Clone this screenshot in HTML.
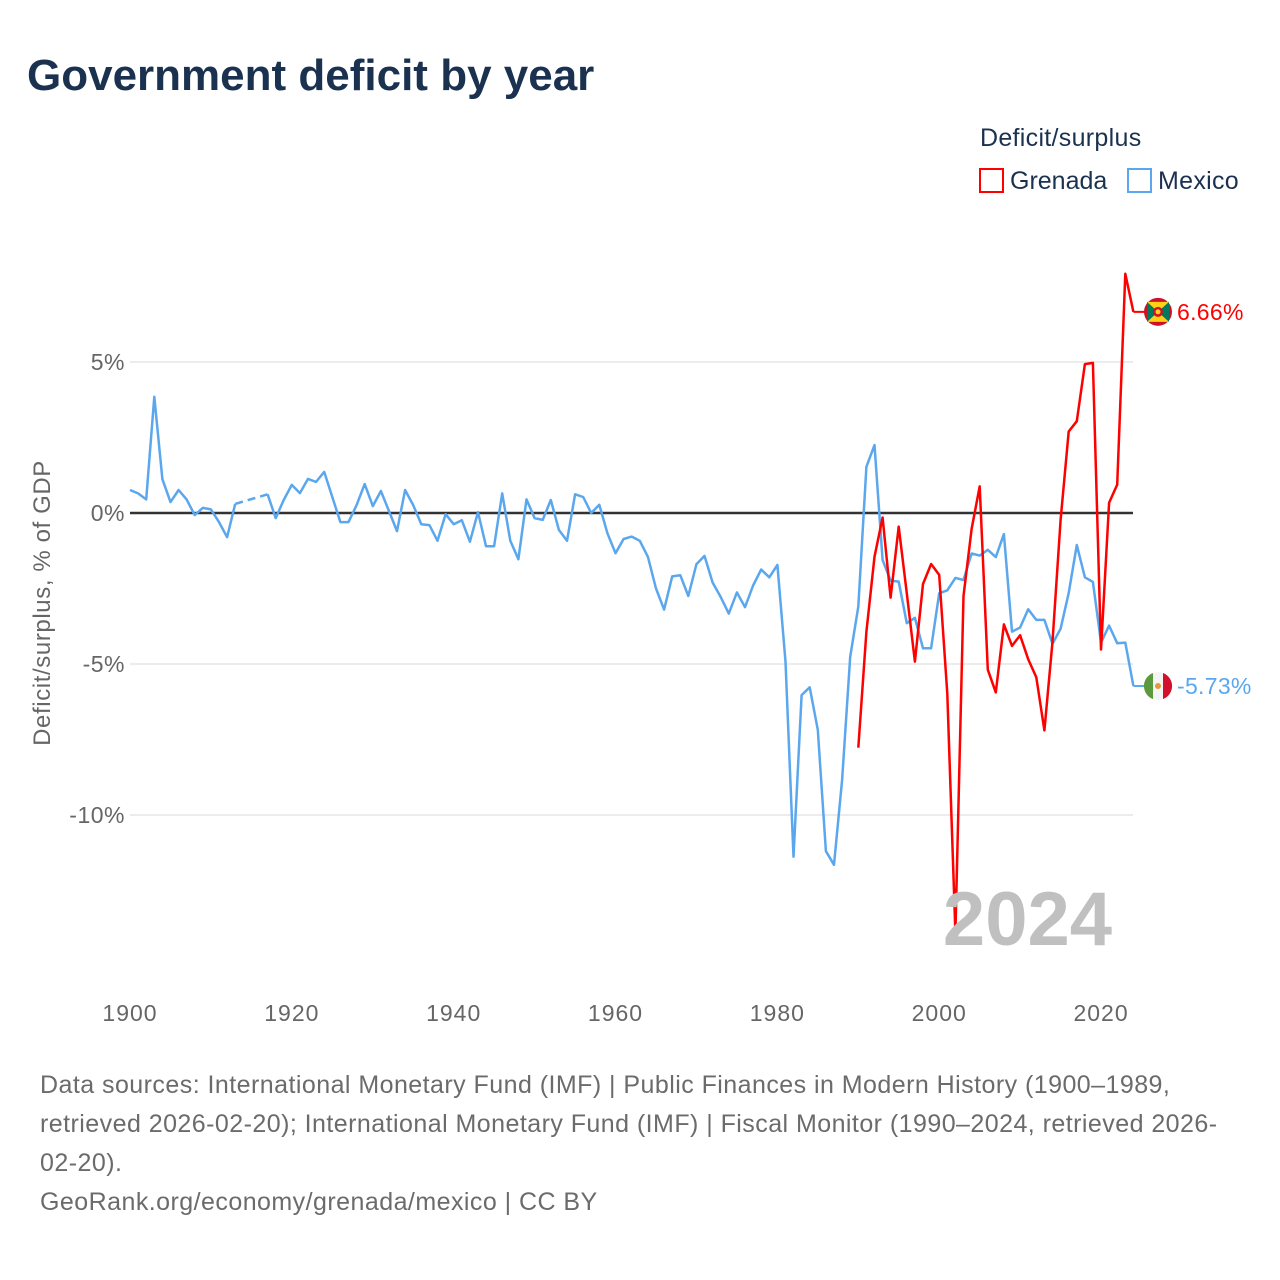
<!DOCTYPE html>
<html><head><meta charset="utf-8">
<style>
body{margin:0;background:#fff;font-family:"Liberation Sans",sans-serif;}
#wrap{position:relative;width:1280px;height:1280px;overflow:hidden;}
.t{position:absolute;white-space:nowrap;}
</style></head>
<body>
<div id="wrap">
<div class="t" style="left:27px;top:51px;font-size:44px;font-weight:bold;color:#1b3150;">Government deficit by year</div>
<div class="t" style="left:980px;top:124px;font-size:25px;letter-spacing:0.3px;color:#1b3150;">Deficit/surplus</div>
<div class="t" style="left:979px;top:167px;font-size:25px;color:#1b3150;"><span style="display:inline-block;width:25px;height:25px;border:2px solid #ff0000;box-sizing:border-box;vertical-align:-4px;margin-right:6px;"></span>Grenada</div>
<div class="t" style="left:1127px;top:167px;font-size:25px;letter-spacing:0.3px;color:#1b3150;"><span style="display:inline-block;width:25px;height:25px;border:2px solid #5ba7ee;box-sizing:border-box;vertical-align:-4px;margin-right:6px;"></span>Mexico</div>
<svg id="chart" width="1280" height="1280" style="position:absolute;left:0;top:0;">
  <g id="grid"></g>
  <g id="series"></g>
  <g id="labels"></g>
</svg>
<div class="t" style="left:40px;top:1066px;font-size:25px;letter-spacing:0.45px;line-height:39px;color:#6b6b6b;">Data sources: International Monetary Fund (IMF) | Public Finances in Modern History (1900–1989,<br>retrieved 2026-02-20); International Monetary Fund (IMF) | Fiscal Monitor (1990–2024, retrieved 2026-<br>02-20).<br>GeoRank.org/economy/grenada/mexico | CC BY</div>
</div>
<script>
const mexicoStart = 1900;
const mexicoValues = [0.76,0.65,0.45,3.85,1.12,0.36,0.76,0.45,-0.07,0.17,0.12,-0.3,-0.8,0.3,null,null,null,0.62,-0.17,0.43,
0.93,0.66,1.13,1.03,1.36,0.53,-0.3,-0.3,0.26,0.96,0.23,0.73,0.07,-0.6,0.76,0.26,-0.37,-0.4,-0.92,-0.04,
-0.37,-0.24,-0.95,0.03,-1.1,-1.1,0.65,-0.92,-1.53,0.45,-0.17,-0.23,0.43,-0.56,-0.92,0.62,0.53,0,0.27,-0.67,
-1.33,-0.86,-0.78,-0.92,-1.45,-2.5,-3.2,-2.1,-2.06,-2.75,-1.7,-1.42,-2.3,-2.78,-3.33,-2.63,-3.12,-2.4,-1.87,-2.13,
-1.72,-4.92,-11.38,-6.03,-5.77,-7.18,-11.2,-11.65,-8.84,-4.76,-3.1,1.53,2.25,-1.56,-2.24,-2.27,-3.65,-3.47,-4.48,-4.48,
-2.66,-2.56,-2.15,-2.22,-1.34,-1.41,-1.22,-1.46,-0.7,-3.93,-3.79,-3.19,-3.54,-3.54,-4.33,-3.83,-2.65,-1.06,-2.13,-2.28,
-4.29,-3.73,-4.31,-4.29,-5.73];
const grenadaStart = 1990;
const grenadaValues = [-7.77,-3.93,-1.45,-0.15,-2.8,-0.45,-2.66,-4.92,-2.35,-1.69,-2.05,-5.98,-13.9,-2.75,-0.53,0.88,-5.19,-5.94,-3.69,-4.4,
-4.05,-4.84,-5.44,-7.2,-4.26,-0.23,2.7,3.04,4.93,4.97,-4.52,0.34,0.94,7.92,6.66];
const yTicks = [5,0,-5,-10];
const yTickLabels = ["5%","0%","-5%","-10%"];
const xTicks = [1900,1920,1940,1960,1980,2000,2020];

const xS = y => 130 + (y-1900)*8.092;
const yS = v => 513 - v*30.2;
const NS = "http://www.w3.org/2000/svg";
const FF = 'Liberation Sans, sans-serif';
function mk(tag, attrs, parent){const e=document.createElementNS(NS,tag);for(const k in attrs)e.setAttribute(k,attrs[k]);parent.appendChild(e);return e;}
const grid=document.getElementById('grid'), series=document.getElementById('series'), labels=document.getElementById('labels');

yTicks.forEach((t,i)=>{
  const l=mk('line',{x1:130,x2:1133,y1:yS(t),y2:yS(t),stroke:t===0?'#333':'#e6e6e6','stroke-width':t===0?2.5:1.5},grid);
  
  
  const tx=mk('text',{x:125,y:yS(t)+8,'text-anchor':'end','font-size':23,'letter-spacing':0.5,fill:'#666','font-family':FF},labels);
  tx.textContent=yTickLabels[i];
  
  
});
xTicks.forEach(t=>{
  const tx=mk('text',{x:xS(t),y:1021,'text-anchor':'middle','font-size':23,'letter-spacing':1,fill:'#666','font-family':FF},labels);
  tx.textContent=t;
  
  
});
const yt=mk('text',{x:0,y:0,transform:'translate(50,603) rotate(-90)','text-anchor':'middle','font-size':24,'letter-spacing':0.6,fill:'#666','font-family':FF},labels);
yt.textContent='Deficit/surplus, % of GDP';


const wm=mk('text',{x:1112,y:945,'text-anchor':'end','font-size':76,'font-weight':'bold',fill:'#c0c0c0','font-family':FF},labels);
wm.textContent='2024';



function drawSeries(start, vals, color, name){
  let seg=[], prev=null;
  const flush=()=>{ if(seg.length>1){const p=mk('polyline',{points:seg.join(' '),fill:'none',stroke:color,'stroke-width':2.5,'stroke-linejoin':'round'},series);
    
    } seg=[]; };
  vals.forEach((v,i)=>{
    const yr=start+i;
    if(v===null){ if(seg.length){prev=seg[seg.length-1];} flush(); return; }
    const pt=xS(yr).toFixed(1)+','+yS(v).toFixed(1);
    if(seg.length===0 && prev){
      const d=mk('polyline',{points:prev+' '+pt,fill:'none',stroke:color,'stroke-width':2.5,'stroke-dasharray':'8,5'},series);
      
      
      prev=null;
    }
    seg.push(pt);
  });
  flush();
}
drawSeries(mexicoStart, mexicoValues, '#5ba7ee', 'mexico');
drawSeries(grenadaStart, grenadaValues, '#ff0000', 'grenada');

function endLabel(start, vals, color, name, flag){
  const v=vals[vals.length-1], yr=start+vals.length-1, y=yS(v);
  const l=mk('line',{x1:xS(yr),x2:1146,y1:y,y2:y,stroke:color,'stroke-width':2},series);
  
  
  const g=mk('g',{},labels);
  
  
  flag(g,1158,y);
  const t=mk('text',{x:1177,y:y+8,'font-size':23,'letter-spacing':0.3,fill:color,'font-family':FF},labels);
  t.textContent=v.toFixed(2)+'%';
  
  
}
endLabel(grenadaStart, grenadaValues, '#ff0000', 'grenada', (g,cx,cy)=>{
  mk('circle',{cx,cy,r:14,fill:'#ce1126'},g);
  mk('rect',{x:cx-11,y:cy-10,width:22,height:20,fill:'#fcd116'},g);
  mk('polygon',{points:`${cx-11},${cy-10} ${cx},${cy} ${cx-11},${cy+10}`,fill:'#007a5e'},g);
  mk('polygon',{points:`${cx+11},${cy-10} ${cx},${cy} ${cx+11},${cy+10}`,fill:'#007a5e'},g);
  mk('circle',{cx,cy,r:5,fill:'#ce1126'},g);
  mk('circle',{cx,cy,r:2.5,fill:'#fcd116'},g);
});
endLabel(mexicoStart, mexicoValues, '#5ba7ee', 'mexico', (g,cx,cy)=>{
  mk('circle',{cx,cy,r:14,fill:'#f4f4f4'},g);
  mk('path',{d:`M${cx-5},${cy-13.1} A14,14 0 0 0 ${cx-5},${cy+13.1} Z`,fill:'#5a9a3c'},g);
  mk('path',{d:`M${cx+5},${cy-13.1} A14,14 0 0 1 ${cx+5},${cy+13.1} Z`,fill:'#d2102c'},g);
  mk('circle',{cx,cy,r:3,fill:'#e19a3a'},g);
});
</script>
</body></html>
